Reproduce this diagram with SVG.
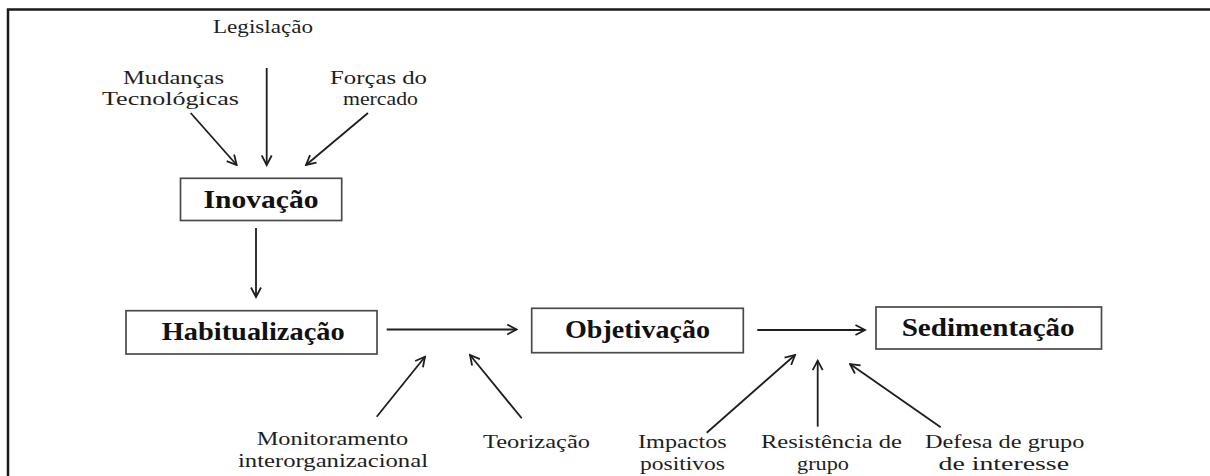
<svg xmlns="http://www.w3.org/2000/svg" width="1210" height="476" viewBox="0 0 1210 476">
<style>
  .lbl { font-family: "Liberation Serif", "Times New Roman", serif; font-size: 19.5px; fill: #1e1e1e; }
  .ttl { font-family: "Liberation Serif", "Times New Roman", serif; font-size: 25.5px; font-weight: bold; fill: #111; }
  .box { fill: #fff; stroke: #4a4a4a; stroke-width: 1.7; }
  .con { stroke: #1e1e1e; stroke-width: 1.8; fill: none; marker-end: url(#arr); }
</style>
<defs>
  <marker id="arr" viewBox="0 0 12 12" markerWidth="12" markerHeight="12" refX="10.5" refY="6" orient="auto" markerUnits="userSpaceOnUse">
    <path d="M1,1 L10.5,6 L1,11" fill="none" stroke="#1e1e1e" stroke-width="1.8"/>
  </marker>
</defs>
<rect width="1210" height="476" fill="#fff"/>
<path d="M8,476 V9.5 H1210" fill="none" stroke="#1a1a1a" stroke-width="2.5"/>

<g id="connectors">
  <line class="con" x1="266.7" y1="68" x2="266.7" y2="165"/>
  <line class="con" x1="190.7" y1="113" x2="236.7" y2="165"/>
  <line class="con" x1="368" y1="113" x2="306" y2="165"/>
  <line class="con" x1="256" y1="228" x2="256" y2="297"/>
  <line class="con" x1="386.7" y1="329.5" x2="516.7" y2="329.5"/>
  <line class="con" x1="757.3" y1="330" x2="865" y2="330"/>
  <line class="con" x1="376.7" y1="416.7" x2="425" y2="356.7"/>
  <line class="con" x1="521.7" y1="418.3" x2="470" y2="355"/>
  <line class="con" x1="706.7" y1="432.7" x2="795" y2="355"/>
  <line class="con" x1="817.7" y1="426.7" x2="817.7" y2="360.7"/>
  <line class="con" x1="940.7" y1="427.3" x2="850" y2="364"/>
</g>

<g id="legislacao"><text class="lbl" x="213" y="33" textLength="100" lengthAdjust="spacingAndGlyphs">Legislação</text></g>
<g id="mudancas">
  <text class="lbl" x="123" y="84" textLength="101" lengthAdjust="spacingAndGlyphs">Mudanças</text>
  <text class="lbl" x="102" y="104.5" textLength="137" lengthAdjust="spacingAndGlyphs">Tecnológicas</text>
</g>
<g id="forcas">
  <text class="lbl" x="330" y="84" textLength="97" lengthAdjust="spacingAndGlyphs">Forças do</text>
  <text class="lbl" x="343" y="104.5" textLength="75" lengthAdjust="spacingAndGlyphs">mercado</text>
</g>

<g id="inovacao">
  <rect class="box" x="180.5" y="178.3" width="161.2" height="42.2"/>
  <text class="ttl" x="203.5" y="207.5" textLength="115" lengthAdjust="spacingAndGlyphs">Inovação</text>
</g>
<g id="habitualizacao">
  <rect class="box" x="126" y="310.7" width="251" height="43.3"/>
  <text class="ttl" x="161.7" y="339.5" textLength="183" lengthAdjust="spacingAndGlyphs">Habitualização</text>
</g>
<g id="objetivacao">
  <rect class="box" x="531.7" y="308.3" width="211.6" height="44.4"/>
  <text class="ttl" x="565" y="337.5" textLength="145" lengthAdjust="spacingAndGlyphs">Objetivação</text>
</g>
<g id="sedimentacao">
  <rect class="box" x="876" y="307" width="225.5" height="42"/>
  <text class="ttl" x="901.7" y="336" textLength="173" lengthAdjust="spacingAndGlyphs">Sedimentação</text>
</g>

<g id="monitoramento">
  <text class="lbl" x="256.7" y="445" textLength="151.6" lengthAdjust="spacingAndGlyphs">Monitoramento</text>
  <text class="lbl" x="238" y="467" textLength="190" lengthAdjust="spacingAndGlyphs">interorganizacional</text>
</g>
<g id="teorizacao"><text class="lbl" x="483" y="448" textLength="107" lengthAdjust="spacingAndGlyphs">Teorização</text></g>
<g id="impactos">
  <text class="lbl" x="638" y="448" textLength="88.7" lengthAdjust="spacingAndGlyphs">Impactos</text>
  <text class="lbl" x="640" y="469.5" textLength="85" lengthAdjust="spacingAndGlyphs">positivos</text>
</g>
<g id="resistencia">
  <text class="lbl" x="761" y="448" textLength="141" lengthAdjust="spacingAndGlyphs">Resistência de</text>
  <text class="lbl" x="797" y="469.5" textLength="52" lengthAdjust="spacingAndGlyphs">grupo</text>
</g>
<g id="defesa">
  <text class="lbl" x="925" y="448" textLength="159.4" lengthAdjust="spacingAndGlyphs">Defesa de grupo</text>
  <text class="lbl" x="938.5" y="469.5" textLength="130.5" lengthAdjust="spacingAndGlyphs">de interesse</text>
</g>
</svg>
